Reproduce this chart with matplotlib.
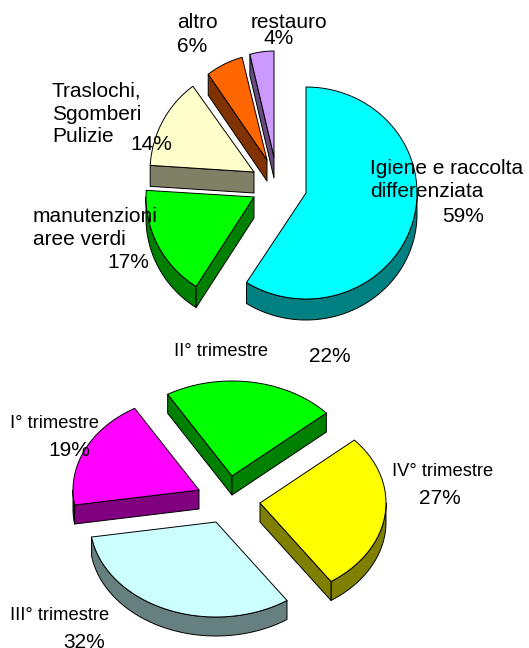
# two exploded 3d-looking pies, drawn by hand since matplotlib has no 3d pie
import numpy as np
import matplotlib
matplotlib.use("Agg")
import matplotlib.pyplot as plt
from matplotlib.patches import Polygon

plt.rcParams['font.family'] = ['Liberation Sans', 'DejaVu Sans']

# upper pie
work_names = ["Igiene e raccolta\ndifferenziata", "manutenzioni\naree verdi", "Traslochi,\nSgomberi\nPulizie", "altro", "restauro"]
work_values = [59, 17, 14, 6, 4]
work_colors = ["#00FFFF", "#00FF00", "#FFFFCC", "#FF6600", "#CC99FF"]
work_sides = ["#008080", "#008000", "#808066", "#803300", "#664C80"]
work_tips = [(306, 193), (254, 197), (254, 172), (267, 160), (274, 157)]
work_rx = [111, 108, 104, 100, 97]
work_name_pos = [(370, 180), (33, 228), (52, 114), (177, 22), (251, 22)]
work_pct_pos = [(442, 216), (107, 263), (130, 144), (177, 47), (263, 38)]

# lower pie
quarter_names = ["IV° trimestre", "III° trimestre", "I° trimestre", "II° trimestre"]
quarter_values = [27, 32, 19, 22]
quarter_colors = ["#FFFF00", "#CCFFFF", "#FF00FF", "#00FF00"]
quarter_sides = ["#808000", "#668080", "#800080", "#008000"]
quarter_tips = [(260, 503), (216, 522), (199, 490), (232, 476)]
quarter_rx = [126, 126, 126, 126]
quarter_name_pos = [(392, 472), (10, 616), (10, 424), (174, 352)]
quarter_pct_pos = [(419, 498), (63, 642), (48, 450), (309, 356)]


def rim(tip, rx, ry, a0, a1):
    th = np.radians(np.linspace(a0, a1, max(int(a1 - a0), 2) + 1))
    return np.column_stack([tip[0] + rx * np.sin(th), tip[1] - ry * np.cos(th)])


def plot_slice(ax, tip, rx, ry, depth, a0, a1, col, side):
    down = np.array([0, depth])
    tip = np.array(tip, dtype=float)
    style = dict(edgecolor="black", linewidth=0.7, joinstyle="round")
    # outer wall, only the part facing the viewer
    lo, hi = max(a0, 90), min(a1, 270)
    if lo < hi:
        arc = rim(tip, rx, ry, lo, hi)
        ax.add_patch(Polygon(np.vstack([arc, arc[::-1] + down]), facecolor=side, **style))
    # the two cut faces
    if 180 < a0 % 360 < 360:
        p = rim(tip, rx, ry, a0, a0)[0]
        ax.add_patch(Polygon([tip, p, p + down, tip + down], facecolor=side, **style))
    if 0 < a1 % 360 < 180:
        p = rim(tip, rx, ry, a1, a1)[0]
        ax.add_patch(Polygon([tip, p, p + down, tip + down], facecolor=side, **style))
    ax.add_patch(Polygon(np.vstack([tip, rim(tip, rx, ry, a0, a1)]), facecolor=col, **style))


def plot_pie(ax, values, colors, sides, tips, rxs, ry, depth, start):
    angles = start + np.cumsum([0] + values) * 360.0 / sum(values)
    for i in range(len(values)):
        plot_slice(ax, tips[i], rxs[i], ry, depth, angles[i], angles[i + 1], colors[i], sides[i])


def plot_labels(ax, names, values, name_pos, pct_pos, name_size, pct_size):
    for name, val, np_, pp in zip(names, values, name_pos, pct_pos):
        ax.text(np_[0], np_[1], name, fontsize=name_size, color="black", ha="left", va="center", linespacing=1.25)
        ax.text(pp[0], pp[1], f"{val}%", fontsize=pct_size, color="black", ha="left", va="center")


fig = plt.figure(figsize=(5.29, 6.48), dpi=100)
ax = fig.add_axes([0, 0, 1, 1])
ax.set_xlim(0, 529)
ax.set_ylim(648, 0)
ax.axis("off")

plot_pie(ax, work_values, work_colors, work_sides, work_tips, work_rx, 106, 21, 0)
plot_pie(ax, quarter_values, quarter_colors, quarter_sides, quarter_tips, quarter_rx, 95, 19, 48.5)
plot_labels(ax, work_names, work_values, work_name_pos, work_pct_pos, 15, 15)
plot_labels(ax, quarter_names, quarter_values, quarter_name_pos, quarter_pct_pos, 13.2, 15)

fig.savefig("out.png", dpi=100)
